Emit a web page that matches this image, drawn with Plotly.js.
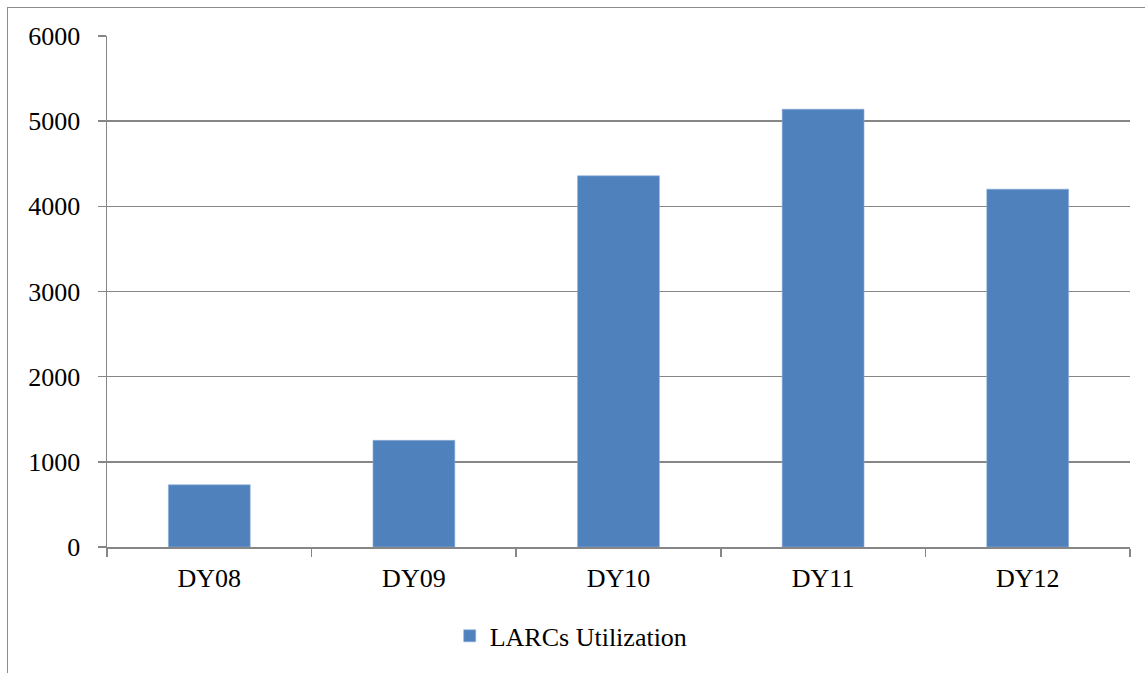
<!DOCTYPE html>
<html>
<head>
<meta charset="utf-8">
<script src="https://cdn.plot.ly/plotly-3.0.1.min.js"></script>
<style>
  html, body { margin: 0; padding: 0; background: #fff; }
  #wrap { position: relative; width: 1145px; height: 673px; overflow: hidden; }
  #chart { position: absolute; left: 0; top: 0; width: 1145px; height: 673px; }
  #frame { position: absolute; left: 7px; top: 7px; width: 1200px; height: 700px;
           border-left: 1.5px solid #8c8c8c; border-top: 1.5px solid #8c8c8c; pointer-events: none; }
</style>
</head>
<body>
<div id="wrap">
  <div id="chart"></div>
  <div id="frame"></div>
</div>
<script>
const categories = ["DY08", "DY09", "DY10", "DY11", "DY12"];
const utilization = [730, 1252, 4358, 5141, 4202];
const seriesName = "LARCs Utilization";
const yTicks = [0, 1000, 2000, 3000, 4000, 5000, 6000];

const font = {family: "Liberation Serif, Times New Roman, serif", size: 26, color: "#000"};

const data = [{
  type: "bar",
  x: categories,
  y: utilization,
  name: seriesName,
  marker: {color: "#4F81BD", line: {color: "#8FAEDA", width: 0.6}},
  showlegend: true
}];

const layout = {
  width: 1145, height: 673,
  margin: {l: 107, r: 15, t: 36, b: 126},
  paper_bgcolor: "#fff", plot_bgcolor: "#fff",
  font: font,
  bargap: 0.6,
  showlegend: true,
  legend: {
    orientation: "h", x: 0.335, xanchor: "left", y: -0.174, yanchor: "middle",
    font: font, bgcolor: "rgba(0,0,0,0)", itemwidth: 30
  },
  xaxis: {
    type: "category",
    showline: true, linecolor: "#868686", linewidth: 1.5,
    ticks: "outside", tickson: "boundaries", ticklen: 8, tickcolor: "#868686", tickwidth: 1.5,
    showgrid: false, zeroline: false,
    tickfont: font, ticklabelstandoff: 7
  },
  yaxis: {
    range: [0, 6000], tickvals: yTicks, ticktext: yTicks.map(String),
    showline: true, linecolor: "#868686", linewidth: 1.5,
    ticks: "outside", ticklen: 8, tickcolor: "#868686", tickwidth: 1.5,
    showgrid: true, gridcolor: "#868686", gridwidth: 1.5,
    zeroline: false,
    tickfont: font, ticklabelstandoff: 12
  }
};

Plotly.newPlot("chart", data, layout, {displayModeBar: false, staticPlot: true});
</script>
</body>
</html>
